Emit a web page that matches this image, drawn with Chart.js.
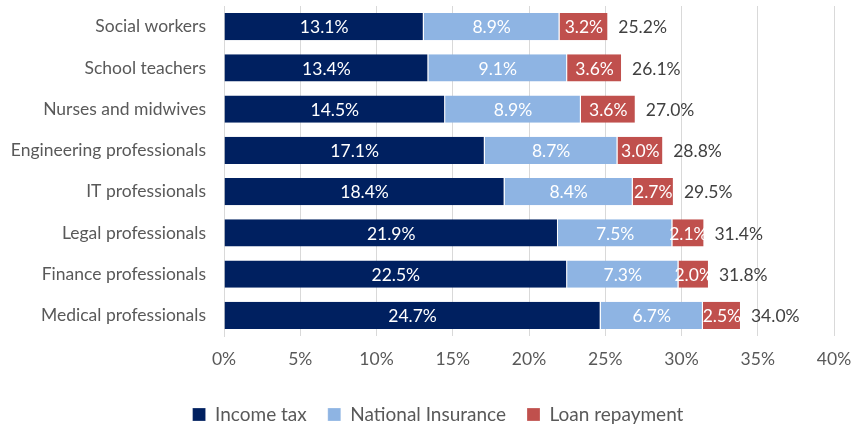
<!DOCTYPE html>
<html>
<head>
<meta charset="utf-8">
<script src="https://cdn.jsdelivr.net/npm/chart.js@4/dist/chart.umd.min.js"></script>
<style>
  html, body { margin: 0; padding: 0; background: #ffffff; }
  #wrap { width: 852px; height: 425px; position: relative; }
</style>
</head>
<body>
<div id="wrap"><canvas id="c" width="852" height="425"></canvas></div>
<script>
const categories = ["Social workers", "School teachers", "Nurses and midwives", "Engineering professionals", "IT professionals", "Legal professionals", "Finance professionals", "Medical professionals"];
const incomeTax = [13.1, 13.4, 14.5, 17.1, 18.4, 21.9, 22.5, 24.7];
const nationalInsurance = [8.9, 9.1, 8.9, 8.7, 8.4, 7.5, 7.3, 6.7];
const loanRepayment = [3.2, 3.6, 3.6, 3.0, 2.7, 2.1, 2.0, 2.5];
const totals = [25.2, 26.1, 27.0, 28.8, 29.5, 31.4, 31.8, 34.0];
const seriesNames = ["Income tax", "National Insurance", "Loan repayment"];
const xTicks = [0, 5, 10, 15, 20, 25, 30, 35, 40];

const FONT = "Lato";
const FS = 17.5;

const labelPlugin = {
  id: 'barLabels',
  afterLayout(chart) {
    // nudge legend to the right to match the reference placement
    const lg = chart.legend;
    if (lg) { lg.left += 10; lg.right += 10; }
  },
  afterDatasetsDraw(chart) {
    const ctx = chart.ctx;
    ctx.save();
    ctx.font = FS + "px " + FONT;
    ctx.textBaseline = 'middle';
    chart.data.datasets.forEach((ds, di) => {
      const meta = chart.getDatasetMeta(di);
      meta.data.forEach((bar, i) => {
        const v = ds.data[i];
        const cx = (bar.x + bar.base) / 2;
        ctx.fillStyle = '#ffffff';
        ctx.textAlign = 'center';
        ctx.fillText(v.toFixed(1) + '%', cx, bar.y + 1);
      });
    });
    const lastMeta = chart.getDatasetMeta(chart.data.datasets.length - 1);
    lastMeta.data.forEach((bar, i) => {
      ctx.fillStyle = '#404040';
      ctx.textAlign = 'left';
      ctx.fillText(totals[i].toFixed(1) + '%', bar.x + 10, bar.y + 1);
    });
    ctx.restore();
  }
};

new Chart(document.getElementById('c'), {
  type: 'bar',
  data: {
    labels: categories,
    datasets: [
      { label: seriesNames[0], data: incomeTax, backgroundColor: '#002060', borderColor: '#ffffff', borderWidth: {right: 1}, borderSkipped: false },
      { label: seriesNames[1], data: nationalInsurance, backgroundColor: '#8EB4E3', borderColor: '#ffffff', borderWidth: {right: 1}, borderSkipped: false },
      { label: seriesNames[2], data: loanRepayment, backgroundColor: '#C0504D', borderColor: '#ffffff', borderWidth: {right: 1}, borderSkipped: false }
    ]
  },
  options: {
    indexAxis: 'y',
    responsive: false,
    animation: false,
    devicePixelRatio: 1,
    layout: { padding: { left: 4, right: 0, top: 6, bottom: -9 } },
    datasets: { bar: { barPercentage: 0.66, categoryPercentage: 1.0 } },
    scales: {
      x: {
        stacked: true,
        min: 0, max: 40,
        afterBuildTicks(axis) { axis.ticks = xTicks.map(v => ({ value: v })); },
        afterFit(axis) { axis.height = 48; axis.paddingRight = 18; axis.paddingLeft = 0; },
        ticks: {
          callback: v => v + '%',
          color: '#595959',
          font: { family: FONT, size: FS },
          padding: 13
        },
        grid: { color: '#d9d9d9', lineWidth: 1, drawTicks: false },
        border: { display: false }
      },
      y: {
        stacked: true,
        afterFit(axis) { axis.width = 220; axis.paddingTop = 0; axis.paddingBottom = 0; },
        ticks: {
          color: '#595959',
          font: { family: FONT, size: FS },
          padding: 18
        },
        grid: { display: false, drawTicks: false },
        border: { display: true, color: '#d9d9d9', width: 1 }
      }
    },
    plugins: {
      legend: {
        position: 'bottom',
        labels: {
          boxWidth: 13, boxHeight: 13,
          color: '#595959',
          font: { family: FONT, size: 19 },
          padding: 21
        }
      },
      tooltip: { enabled: false }
    }
  },
  plugins: [labelPlugin]
});
</script>
</body>
</html>
